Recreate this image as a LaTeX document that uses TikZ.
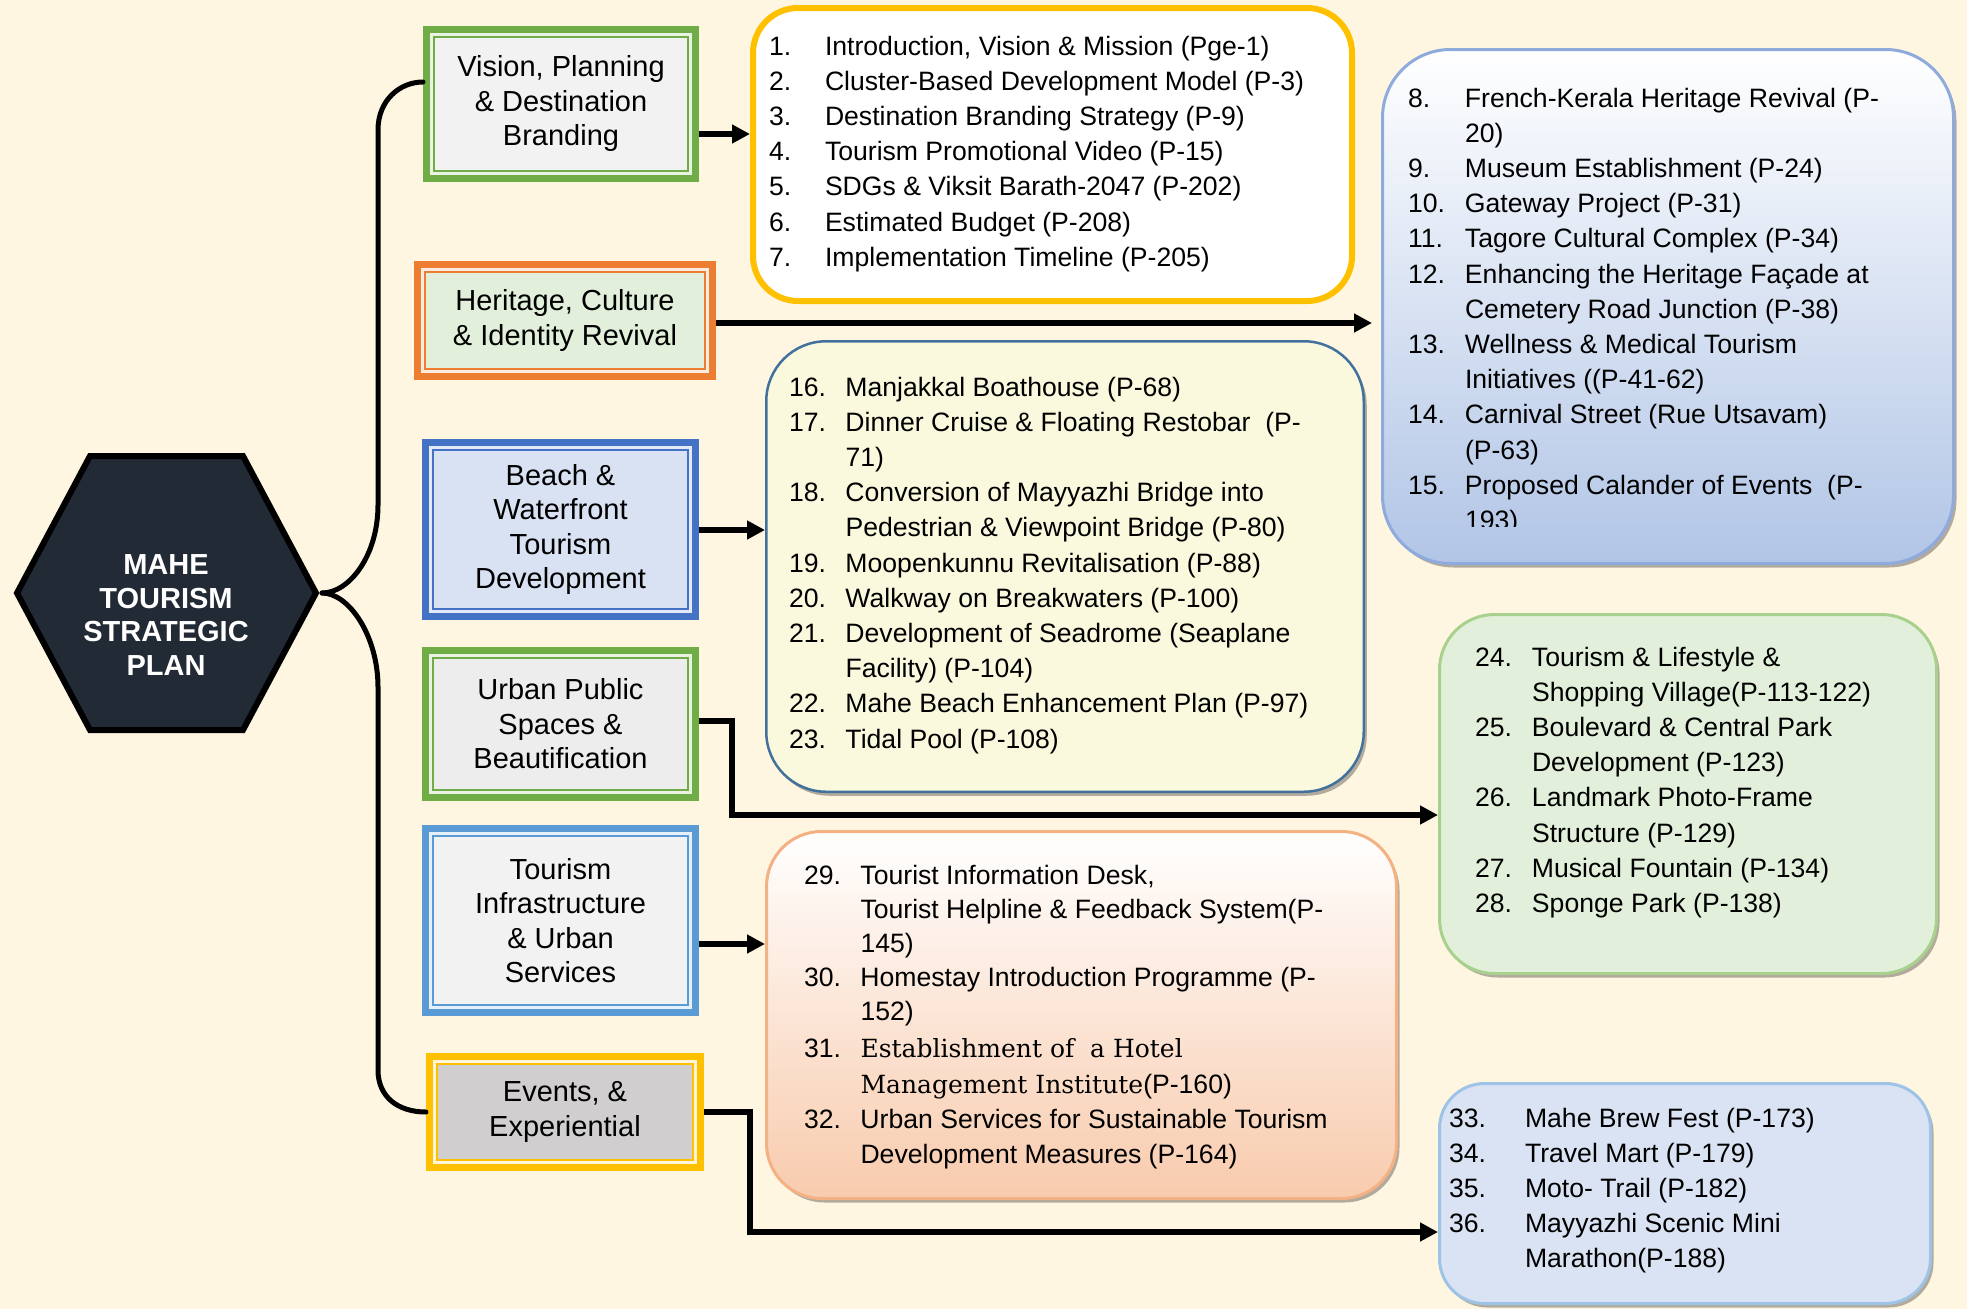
\documentclass[tikz,border=0pt]{standalone}
\usepackage{fontspec}
\setmainfont{Liberation Sans}
\newfontfamily\serifface{DejaVu Serif}
\usetikzlibrary{arrows.meta,shadows}

\definecolor{bgcream}{HTML}{FFF6E1}
\definecolor{hexfill}{HTML}{222A35}
\definecolor{grn}{HTML}{70AD47}
\definecolor{org}{HTML}{ED7D31}
\definecolor{blu}{HTML}{4472C4}
\definecolor{lblu}{HTML}{5B9BD5}
\definecolor{gold}{HTML}{FFC000}
\definecolor{fillgrey}{HTML}{F2F2F2}
\definecolor{fillgreyb}{HTML}{EDEDED}
\definecolor{fillgreen}{HTML}{E2EFDA}
\definecolor{fillblue}{HTML}{D9E2F3}
\definecolor{fillstone}{HTML}{D0CECE}
\definecolor{Bline}{HTML}{8FAADC}
\definecolor{Bbot}{HTML}{B1C5E6}
\definecolor{Cline}{HTML}{41719C}
\definecolor{Cfill}{HTML}{FAF9DE}
\definecolor{Dline}{HTML}{A9D18E}
\definecolor{Dfill}{HTML}{E2EFDA}
\definecolor{Eline}{HTML}{F4B183}
\definecolor{Ebot}{HTML}{F8CBAD}
\definecolor{Fline}{HTML}{9DC3E6}
\definecolor{Ffill}{HTML}{DAE3F3}

\newlength\numw
\newcommand\nrow[2]{\makebox[\numw][l]{#1}#2}
\newcommand\crow[1]{\hspace*{\numw}#1}
\newcommand\cattext{\fontsize{29pt}{34.5pt}\selectfont}
\newcommand\listtext{\fontsize{26.6pt}{35.2pt}\selectfont}
\newcommand\listtextE{\fontsize{26.6pt}{34pt}\selectfont}
\newcommand\serifpart{\serifface\fontsize{25pt}{34pt}\selectfont}

\begin{document}
\begin{tikzpicture}[x=1pt,y=-1pt,
  catbox/.style 2 args={rectangle, draw=#1, fill=#2, line width=2pt,
    preaction={draw=#1, line width=22pt},
    preaction={draw=#1!15!white, line width=8pt},
    outer sep=11pt, inner sep=0pt, align=center, font=\cattext},
  boxshadow/.style={drop shadow={shadow xshift=3pt, shadow yshift=-4pt, fill=black, opacity=0.3}},
  textlist/.style={anchor=base west, inner sep=0pt, outer sep=0pt},
  arr/.style={line width=5.5pt, line join=miter, -{Triangle[length=18pt,width=18pt]}},
  brace/.style={line width=5pt, line cap=round}]

% canvas
\fill[bgcream] (0,0) rectangle (1967,1309);
\useasboundingbox (0,0) rectangle (1967,1309);

% central hexagon
\draw[line width=6pt, fill=hexfill, line join=miter]
  (17,593) -- (90,456) -- (243,456) -- (316,593) -- (243,730) -- (90,730) -- cycle;
\node[text=white, font=\fontsize{29pt}{33.6pt}\selectfont\bfseries, align=center] (hex) at (166,615)
  {MAHE\\TOURISM\\STRATEGIC\\PLAN};
\coordinate (hexR) at (322,593);

% theme boxes
\node[catbox={grn}{fillgrey}, minimum width=254pt, minimum height=134pt] (vis) at (561,104)
  {Vision, Planning\\\& Destination\\Branding};
\node[catbox={org}{fillgreen}, minimum width=280pt, minimum height=97pt] (her) at (565,320.5)
  {Heritage, Culture\\\& Identity Revival};
\node[catbox={blu}{fillblue}, minimum width=255pt, minimum height=159pt] (bea) at (560.5,529.5)
  {Beach \&\\Waterfront\\Tourism\\Development};
\node[catbox={grn}{fillgreyb}, minimum width=255pt, minimum height=132pt] (urb) at (560.5,724)
  {Urban Public\\Spaces \&\\Beautification};
\node[catbox={lblu}{fillgrey}, minimum width=255pt, minimum height=169pt] (inf) at (560.5,920.5)
  {Tourism\\Infrastructure\\\& Urban\\Services};
\node[catbox={gold}{fillstone}, minimum width=256pt, minimum height=96pt] (eve) at (565,1112)
  {Events, \&\\Experiential};

% project list boxes
\node[rectangle, rounded corners=45pt, draw=gold, line width=6pt, fill=white,
  minimum width=599pt, minimum height=293pt, outer sep=3pt] (A) at (1052.5,154.5) {};
\node[rectangle, rounded corners=68pt, draw=Bline, line width=3pt, top color=white, bottom color=Bbot,
  minimum width=571pt, minimum height=514pt, outer sep=1.5pt, boxshadow] (B) at (1668,306.5) {};
\node[rectangle, rounded corners=60pt, draw=Cline, line width=2.5pt, fill=Cfill,
  minimum width=597.5pt, minimum height=450.5pt, outer sep=1.25pt, boxshadow] (C) at (1065,566.5) {};
\node[rectangle, rounded corners=55pt, draw=Dline, line width=3pt, fill=Dfill,
  minimum width=497pt, minimum height=359pt, outer sep=1.5pt, boxshadow] (D) at (1688,794) {};
\node[rectangle, rounded corners=55pt, draw=Eline, line width=3pt, top color=white, bottom color=Ebot,
  minimum width=630pt, minimum height=367pt, outer sep=1.5pt, boxshadow] (E) at (1081.5,1015) {};
\node[rectangle, rounded corners=45pt, draw=Fline, line width=3pt, fill=Ffill,
  minimum width=491pt, minimum height=220pt, outer sep=1.5pt, boxshadow] (F) at (1685,1193.5) {};

% list texts
\node[textlist, font=\listtext] (At) at (769,55) {\setlength\numw{56pt}%
  \begin{tabular}[t]{@{}l@{}}
  \nrow{1.}{Introduction, Vision \& Mission (Pge-1)}\\
  \nrow{2.}{Cluster-Based Development Model (P-3)}\\
  \nrow{3.}{Destination Branding Strategy (P-9)}\\
  \nrow{4.}{Tourism Promotional Video (P-15)}\\
  \nrow{5.}{SDGs \& Viksit Barath-2047 (P-202)}\\
  \nrow{6.}{Estimated Budget (P-208)}\\
  \nrow{7.}{Implementation Timeline (P-205)}
  \end{tabular}};

\begin{scope}
\clip (1381,48) rectangle (1955,526);
\node[textlist, font=\listtext] (Bt) at (1408,107) {\setlength\numw{57pt}%
  \begin{tabular}[t]{@{}l@{}}
  \nrow{8.}{French-Kerala Heritage Revival (P-}\\
  \crow{20)}\\
  \nrow{9.}{Museum Establishment (P-24)}\\
  \nrow{10.}{Gateway Project (P-31)}\\
  \nrow{11.}{Tagore Cultural Complex (P-34)}\\
  \nrow{12.}{Enhancing the Heritage Façade at}\\
  \crow{Cemetery Road Junction (P-38)}\\
  \nrow{13.}{Wellness \& Medical Tourism}\\
  \crow{Initiatives ((P-41-62)}\\
  \nrow{14.}{Carnival Street (Rue Utsavam)}\\
  \crow{(P-63)}\\
  \nrow{15.}{Proposed Calander of Events\ \ (P-}\\
  \crow{193)}
  \end{tabular}};
\end{scope}

\node[textlist, font=\listtext] (Ct) at (789,396) {\setlength\numw{56.5pt}%
  \begin{tabular}[t]{@{}l@{}}
  \nrow{16.}{Manjakkal Boathouse (P-68)}\\
  \nrow{17.}{Dinner Cruise \& Floating Restobar\ \ (P-}\\
  \crow{71)}\\
  \nrow{18.}{Conversion of Mayyazhi Bridge into}\\
  \crow{Pedestrian \& Viewpoint Bridge (P-80)}\\
  \nrow{19.}{Moopenkunnu Revitalisation (P-88)}\\
  \nrow{20.}{Walkway on Breakwaters (P-100)}\\
  \nrow{21.}{Development of Seadrome (Seaplane}\\
  \crow{Facility) (P-104)}\\
  \nrow{22.}{Mahe Beach Enhancement Plan (P-97)}\\
  \nrow{23.}{Tidal Pool (P-108)}
  \end{tabular}};

\node[textlist, font=\listtext] (Dt) at (1475,666) {\setlength\numw{57pt}%
  \begin{tabular}[t]{@{}l@{}}
  \nrow{24.}{Tourism \& Lifestyle \&}\\
  \crow{Shopping Village(P-113-122)}\\
  \nrow{25.}{Boulevard \& Central Park}\\
  \crow{Development (P-123)}\\
  \nrow{26.}{Landmark Photo-Frame}\\
  \crow{Structure (P-129)}\\
  \nrow{27.}{Musical Fountain (P-134)}\\
  \nrow{28.}{Sponge Park (P-138)}
  \end{tabular}};

\node[textlist, font=\listtextE] (Et) at (804,884) {\setlength\numw{56.5pt}%
  \begin{tabular}[t]{@{}l@{}}
  \nrow{29.}{Tourist Information Desk,}\\
  \crow{Tourist Helpline \& Feedback System(P-}\\
  \crow{145)}\\
  \nrow{30.}{Homestay Introduction Programme (P-}\\
  \crow{152)}\\[3pt]
  \nrow{31.}{{\serifpart Establishment of\ \ a Hotel}}\\[2pt]
  \crow{{\serifpart Management Institute}(P-160)}\\[1pt]
  \nrow{32.}{Urban Services for Sustainable Tourism}\\[1pt]
  \crow{Development Measures (P-164)}
  \end{tabular}};

\node[textlist, font=\listtext] (Ft) at (1449,1127) {\setlength\numw{76pt}%
  \begin{tabular}[t]{@{}l@{}}
  \nrow{33.}{Mahe Brew Fest (P-173)}\\
  \nrow{34.}{Travel Mart (P-179)}\\
  \nrow{35.}{Moto- Trail (P-182)}\\
  \nrow{36.}{Mayyazhi Scenic Mini}\\
  \crow{Marathon(P-188)}
  \end{tabular}};

% brace from the plan to the themes
\coordinate (visIn) at ([yshift=22pt]vis.west);
\draw[brace] (visIn) .. controls (400,82) and (378,100) .. (378,130) -- (378,505)
  .. controls (378,556) and (349,593) .. (hexR);
\draw[brace] (hexR) .. controls (349,593) and (378,636) .. (378,687) -- (378,1070)
  .. controls (378,1097) and (398,1112) .. (eve.west);

% theme-to-list connectors
\coordinate (h134) at (0,134);
\coordinate (h323) at (0,323);
\coordinate (h530) at (0,530);
\coordinate (h721) at (0,721);
\coordinate (h815) at (0,815);
\coordinate (h944) at (0,944);
\coordinate (h1232) at (0,1232);
\draw[arr] (vis.east |- h134) -- (A.west |- h134);
\draw[arr, shorten >=9pt] (her.east |- h323) -- (B.west |- h323);
\draw[arr] (bea.east |- h530) -- (C.west |- h530);
\draw[arr] (urb.east |- h721) -- ++(33,0) |- (D.west |- h815);
\draw[arr] (inf.east |- h944) -- (E.west |- h944);
\draw[arr] (eve.east) -- ++(46,0) |- (F.west |- h1232);

\end{tikzpicture}
\end{document}
